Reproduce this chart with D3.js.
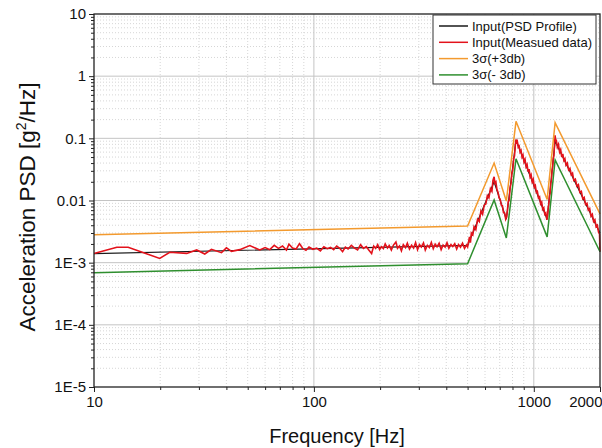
<!DOCTYPE html>
<html>
<head>
<meta charset="UTF-8">
<title>PSD</title>
<script src="https://cdn.jsdelivr.net/npm/d3@7"></script>
<style>
  body { margin: 0; background: #fff; }
  svg { display: block; }
  text { font-family: "Liberation Sans", Arial, sans-serif; fill: #111; }
</style>
</head>
<body>
<div id="grafica"></div>
<script>
// breakpoints of the test profile and its +/-3dB limits
profileFreq = [10, 500, 660, 750, 830, 1150, 1250, 2000]
profileVal  = [1.4e-3, 1.9e-3, 0.02, 0.005, 0.094, 0.005, 0.09, 0.003]
plus3Val    = [2.8e-3, 3.9e-3, 0.04, 0.0098, 0.188, 0.0104, 0.179, 0.0061]
minus3Val   = [0.69e-3, 0.96e-3, 0.0102, 0.0025, 0.047, 0.0026, 0.045, 0.0015]

measFreq = [10, 12.7, 14.3, 19.9, 22.1, 26.4, 29.3, 31.9, 34.2, 38, 40, 42.2, 46, 51.1, 56.7,
  60, 63, 66, 69, 72, 75, 77, 80, 83, 86, 89, 92, 95, 99, 103, 107, 111, 115, 119, 123, 127, 131, 135, 139, 143, 148, 153, 158, 163, 168, 173, 178,
  183, 187, 191, 195, 199, 203, 207, 211, 216, 220, 225, 230, 236, 240, 245, 250, 255, 261, 266, 272, 278, 284, 290, 296, 302, 308, 315, 321, 328, 335, 342, 349, 356, 363, 371, 379, 387, 395, 403, 411, 420, 428, 437, 446, 455, 464, 474, 484, 494, 500,
  510, 515, 520, 528, 535, 545, 555, 565, 575, 585, 595, 605, 615, 625, 635, 645, 652, 660, 665,
  672, 680, 688, 695, 703, 712, 720, 728, 737, 745, 752,
  758, 765, 772, 780, 788, 795, 802, 810, 817, 824, 830, 836,
  842, 850, 858, 866, 875, 884, 893, 902, 912, 922, 932, 942, 952, 962, 972, 983, 994, 1005, 1016, 1027, 1038, 1050, 1062, 1074, 1086, 1098, 1110, 1122, 1134, 1146, 1155,
  1162, 1170, 1178, 1186, 1194, 1202, 1210, 1218, 1226, 1234, 1242, 1250, 1258,
  1265, 1280, 1295, 1310, 1325, 1340, 1355, 1370, 1385, 1400, 1420, 1440, 1460, 1480, 1500, 1520, 1545, 1570, 1595, 1620, 1645, 1670, 1695, 1720, 1745, 1770, 1795, 1820, 1845, 1870, 1895, 1920, 1945, 1970, 1990, 2000]
measVal = [1.40e-3, 1.77e-3, 1.77e-3, 1.17e-3, 1.47e-3, 1.41e-3, 1.60e-3, 1.38e-3, 1.64e-3, 1.45e-3, 1.73e-3, 1.52e-3, 1.62e-3, 1.88e-3, 1.60e-3,
  1.75e-3, 1.62e-3, 1.90e-3, 1.70e-3, 1.85e-3, 1.60e-3, 1.98e-3, 1.72e-3, 1.66e-3, 2.02e-3, 1.70e-3, 1.58e-3, 1.78e-3, 1.64e-3, 1.72e-3, 1.55e-3, 1.80e-3, 1.68e-3, 1.76e-3, 1.62e-3, 1.85e-3, 1.70e-3, 1.50e-3, 1.78e-3, 1.66e-3, 1.90e-3, 1.72e-3, 1.60e-3, 1.95e-3, 1.70e-3, 1.82e-3, 1.58e-3,
  1.40e-3, 1.85e-3, 1.70e-3, 1.95e-3, 1.62e-3, 1.80e-3, 1.68e-3, 2.00e-3, 1.72e-3, 1.88e-3, 1.60e-3, 1.92e-3, 2.15e-3, 1.70e-3, 1.85e-3, 1.55e-3, 1.95e-3, 1.75e-3, 2.05e-3, 1.65e-3, 1.90e-3, 1.72e-3, 2.10e-3, 1.62e-3, 1.95e-3, 1.78e-3, 2.08e-3, 1.60e-3, 1.90e-3, 1.75e-3, 2.12e-3, 1.68e-3, 1.98e-3, 1.80e-3, 2.05e-3, 1.62e-3, 1.92e-3, 1.78e-3, 2.10e-3, 1.70e-3, 1.95e-3, 1.82e-3, 2.02e-3, 1.66e-3, 1.96e-3, 1.78e-3, 2.06e-3, 1.70e-3, 1.92e-3, 1.80e-3,
  2.6e-3, 2.1e-3, 3.0e-3, 2.8e-3, 3.8e-3, 3.4e-3, 5.0e-3, 4.6e-3, 6.8e-3, 6.0e-3, 8.4e-3, 8.8e-3, 12e-3, 11e-3, 15.5e-3, 14e-3, 21e-3, 24e-3, 19e-3,
  20e-3, 15e-3, 13.5e-3, 11e-3, 10.5e-3, 8.4e-3, 8.2e-3, 6.4e-3, 6.3e-3, 5.0e-3, 5.4e-3,
  6.8e-3, 9.5e-3, 10e-3, 16e-3, 19e-3, 28e-3, 30e-3, 48e-3, 52e-3, 78e-3, 96e-3, 82e-3,
  88e-3, 72e-3, 75e-3, 60e-3, 64e-3, 50e-3, 54e-3, 42e-3, 46e-3, 35e-3, 38e-3, 29e-3, 32e-3, 24e-3, 26e-3, 20e-3, 22e-3, 16.5e-3, 17.5e-3, 13.5e-3, 14e-3, 11e-3, 11.5e-3, 8.8e-3, 9.4e-3, 7.2e-3, 7.6e-3, 6.0e-3, 6.3e-3, 4.9e-3, 5.6e-3,
  7.5e-3, 8.8e-3, 12e-3, 13e-3, 19e-3, 21e-3, 30e-3, 34e-3, 48e-3, 52e-3, 78e-3, 112e-3, 90e-3,
  95e-3, 72e-3, 80e-3, 60e-3, 66e-3, 50e-3, 56e-3, 44e-3, 47e-3, 37e-3, 40e-3, 31e-3, 33e-3, 26e-3, 27.5e-3, 21e-3, 22e-3, 17e-3, 18e-3, 13.5e-3, 14e-3, 10.6e-3, 11.2e-3, 8.6e-3, 9.0e-3, 7.0e-3, 7.4e-3, 5.6e-3, 6.0e-3, 4.6e-3, 4.9e-3, 3.8e-3, 4.0e-3, 3.1e-3, 2.9e-3, 1.5e-3]

yTicks = [10, 1, 0.1, 0.01, 1e-3, 1e-4, 1e-5]
yTickLabels = ['10', '1', '0.1', '0.01', '1E-3', '1E-4', '1E-5']
xTicks = [10, 100, 1000, 2000]
xTickLabels = ['10', '100', '1000', '2000']

legendNames = ['Input(PSD Profile)', 'Input(Measued data)', '3\u03c3(+3db)', '3\u03c3(- 3db)']
colores = ['#1a1a1a', '#e3121b', '#f39a2e', '#2f8f2f']

ancho = 602
alto = 448
m = { left: 94, right: 2, top: 14, bottom: 61 }

svg = d3.select('#grafica').append('svg')
  .attr('width', ancho).attr('height', alto)

x = d3.scaleLog().domain([10, 2000]).range([m.left, ancho - m.right])
y = d3.scaleLog().domain([1e-5, 10]).range([alto - m.bottom, m.top])

x0 = m.left; x1 = ancho - m.right; y0 = alto - m.bottom; y1 = m.top

// minor values
xMinor = []
;[10, 100, 1000].forEach(function(d) { for (k = 2; k <= 9; k++) if (d * k < 2000) xMinor.push(d * k) })
yMinor = []
;[1e-5, 1e-4, 1e-3, 1e-2, 0.1, 1].forEach(function(d) { for (k = 2; k <= 9; k++) yMinor.push(d * k) })

// grid
g = svg.append('g')
g.selectAll('.vmin').data(xMinor).enter().append('line')
  .attr('x1', d => x(d)).attr('x2', d => x(d)).attr('y1', y0).attr('y2', y1)
  .attr('stroke', '#d6d6d6').attr('stroke-dasharray', '1,2')
g.selectAll('.hmin').data(yMinor).enter().append('line')
  .attr('y1', d => y(d)).attr('y2', d => y(d)).attr('x1', x0).attr('x2', x1)
  .attr('stroke', '#d6d6d6').attr('stroke-dasharray', '1,2')
g.selectAll('.vmaj').data([100, 1000]).enter().append('line')
  .attr('x1', d => x(d)).attr('x2', d => x(d)).attr('y1', y0).attr('y2', y1)
  .attr('stroke', '#c4c4c4')
g.selectAll('.hmaj').data([1, 0.1, 0.01, 1e-3, 1e-4]).enter().append('line')
  .attr('y1', d => y(d)).attr('y2', d => y(d)).attr('x1', x0).attr('x2', x1)
  .attr('stroke', '#c4c4c4')

// series
function serie(fr, vals) { return fr.map((f, i) => [f, vals[i]]) }
linea = d3.line().x(d => x(d[0])).y(d => y(d[1]))

svg.append('path').datum(serie(profileFreq, profileVal)).attr('d', linea)
  .attr('fill', 'none').attr('stroke', colores[0]).attr('stroke-width', 1.2)
svg.append('path').datum(serie(measFreq, measVal)).attr('d', linea)
  .attr('fill', 'none').attr('stroke', colores[1]).attr('stroke-width', 1.6)
svg.append('path').datum(serie(profileFreq, plus3Val)).attr('d', linea)
  .attr('fill', 'none').attr('stroke', colores[2]).attr('stroke-width', 1.5)
svg.append('path').datum(serie(profileFreq, minus3Val)).attr('d', linea)
  .attr('fill', 'none').attr('stroke', colores[3]).attr('stroke-width', 1.5)

// frame
svg.append('rect').attr('x', x0).attr('y', y1).attr('width', x1 - x0).attr('height', y0 - y1)
  .attr('fill', 'none').attr('stroke', '#222').attr('stroke-width', 1.3)

// axes
xAxis = d3.axisBottom(x).tickValues(xTicks).tickFormat((d, i) => xTickLabels[i]).tickSize(5).tickPadding(4)
ax = svg.append('g').attr('transform', 'translate(0,' + y0 + ')').call(xAxis)
ax.select('.domain').remove()
ax.selectAll('text').attr('font-size', 15).attr('fill', '#111').attr('font-family', '"Liberation Sans", Arial, sans-serif')
ax.selectAll('text').filter(d => d === 2000).attr('text-anchor', 'end').attr('dx', 2)
ax.selectAll('.tick line').attr('stroke', '#222')
axm = svg.append('g').attr('transform', 'translate(0,' + y0 + ')')
  .call(d3.axisBottom(x).tickValues(xMinor).tickFormat('').tickSize(3))
axm.select('.domain').remove()
axm.selectAll('.tick line').attr('stroke', '#222')

yAxis = d3.axisLeft(y).tickValues(yTicks).tickFormat((d, i) => yTickLabels[i]).tickSize(5).tickPadding(3)
ay = svg.append('g').attr('transform', 'translate(' + x0 + ',0)').call(yAxis)
ay.select('.domain').remove()
ay.selectAll('text').attr('font-size', 15).attr('fill', '#111').attr('font-family', '"Liberation Sans", Arial, sans-serif')
ay.selectAll('.tick line').attr('stroke', '#222')
aym = svg.append('g').attr('transform', 'translate(' + x0 + ',0)')
  .call(d3.axisLeft(y).tickValues(yMinor).tickFormat('').tickSize(3))
aym.select('.domain').remove()
aym.selectAll('.tick line').attr('stroke', '#222')

// titles
svg.append('text').attr('x', (x0 + x1) / 2 - 10).attr('y', 443)
  .attr('text-anchor', 'middle').attr('font-size', 20).text('Frequency [Hz]')
yt = svg.append('text').attr('transform', 'translate(35,' + 207 + ') rotate(-90)')
  .attr('text-anchor', 'middle').attr('font-size', 22.5)
yt.append('tspan').text('Acceleration PSD [g')
yt.append('tspan').attr('font-size', 14).attr('dy', -9).text('2')
yt.append('tspan').attr('dy', 9).text('/Hz]')

// legend
lg = svg.append('g')
lg.append('rect').attr('x', 433).attr('y', 15).attr('width', 163).attr('height', 69)
  .attr('fill', '#fff').attr('stroke', '#333').attr('stroke-width', 1)
legendNames.forEach(function(n, i) {
  yy = 26 + i * 16.3
  lg.append('line').attr('x1', 439).attr('x2', 468).attr('y1', yy).attr('y2', yy)
    .attr('stroke', colores[i]).attr('stroke-width', 1.5)
  lg.append('text').attr('x', 472).attr('y', yy + 4.5).attr('font-size', 13).text(n)
})
</script>
</body>
</html>
